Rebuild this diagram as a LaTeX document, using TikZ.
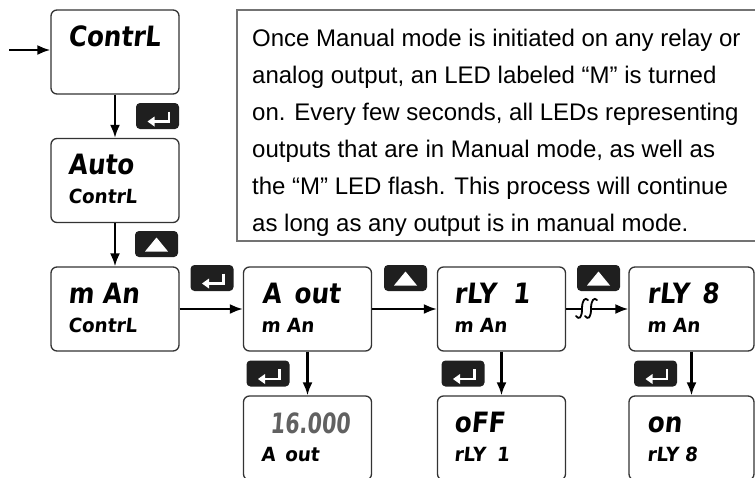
\documentclass[tikz,border=0pt]{standalone}
\usepackage{fontspec}
\usepackage{graphicx}
\setmainfont{Liberation Sans}
\newfontfamily\lcd[FakeSlant=0.1,FakeStretch=0.88]{DejaVu Sans Bold}
\newfontfamily\lcdsmall[FakeSlant=0.1,FakeStretch=0.94]{DejaVu Sans Bold}
\usetikzlibrary{arrows.meta,calc}
\tikzset{
  entericon/.pic={
    \draw[white,line width=2.6pt] (11.5,-4.5) -- (11.5,5.5) -- (-4,5.5);
    \fill[white] (-10,5.5) -- (-3,0.5) -- (-3,10.5) -- cycle;
  },
  upicon/.pic={
    \fill[white] (0,-6.5) -- (11.5,7.5) -- (-11.5,7.5) -- cycle;
  }
}
\begin{document}
\begin{tikzpicture}[x=1pt,y=-1pt,
  disp/.style={draw=black!80,line width=1.3pt,rounded corners=6pt,minimum width=128pt,minimum height=84pt,inner sep=0pt},
  keybtn/.style={fill=black!88,rounded corners=4pt,minimum width=43pt,minimum height=26pt,inner sep=0pt},
  big/.style={font=\lcd\fontsize{28}{28}\selectfont,anchor=base west,inner sep=0pt},
  small/.style={font=\lcdsmall\fontsize{19.5}{19.5}\selectfont,anchor=base west,inner sep=0pt},
  conn/.style={line width=2.2pt,-{Latex[length=13pt,width=10pt]}},
  para/.style={font=\fontsize{24}{24}\selectfont,anchor=base west,inner sep=0pt}
]
\clip (0,0) rectangle (755,477);

% note box
\draw[draw=black!55,line width=1.5pt] (237,10) rectangle (770,241);
\node[para] (l1) at (252,46) {Once Manual mode is initiated on any relay or};
\node[para] (l2) at (252,83) {analog output, an LED labeled “M” is turned};
\node[para] (l3) at (252,120) {on. Every few seconds, all LEDs representing};
\node[para] (l4) at (252,157) {outputs that are in Manual mode, as well as};
\node[para] (l5) at (252,194) {the “M” LED flash. This process will continue};
\node[para] (l6) at (252,231) {as long as any output is in manual mode.};

% display boxes
\node[disp] (contrl) at (115,52) {};
\node[disp] (auto) at (115,180.5) {};
\node[disp] (man) at (115,309) {};
\node[disp] (aout) at (307.5,309) {};
\node[disp] (rly1) at (501.5,309) {};
\node[disp,minimum width=125pt] (rly8) at (691.5,309) {};
\node[disp] (val) at (307.5,438) {};
\node[disp] (off) at (501.5,438) {};
\node[disp,minimum width=125pt] (on) at (691.5,438) {};

% display texts
\node[big] (t1) at (68,46) {ContrL};
\node[big] (t2) at (68,174) {Auto};
\node[small] (t3) at (68,203) {ContrL};
\node[big] (t4) at (68,303) {m An};
\node[small] (t5) at (68,332) {ContrL};
\node[big] (t6) at (262,303) {A \kern4pt out};
\node[small] (t7) at (261,332) {m An};
\node[big] (t8) at (454,303) {rLY \kern8pt 1};
\node[small] (t9) at (454,332) {m An};
\node[big] (t10) at (647,303) {rLY \kern4pt 8};
\node[small] (t11) at (647,332) {m An};
\node[big,text=black!62] (t12) at (270,433) {\scalebox{0.84}[1]{16.000}};
\node[small] (t13) at (261,461) {A \kern3pt out};
\node[big] (t14) at (454,432) {oFF};
\node[small] (t15) at (454,461) {rLY \kern5pt 1};
\node[big] (t16) at (647,432) {on};
\node[small] (t17) at (647,461) {rLY 8};

% keys
\node[keybtn] (k1) at (157.5,116) {};
\node[keybtn] (u1) at (156.5,244) {};
\node[keybtn] (k2) at (212,278) {};
\node[keybtn] (u2) at (405.5,278) {};
\node[keybtn] (u3) at (598.5,278) {};
\node[keybtn] (k3) at (268,373.5) {};
\node[keybtn] (k4) at (463,373.5) {};
\node[keybtn] (k5) at (655.5,373.5) {};
\pic at (k1) {entericon};
\pic at (k2) {entericon};
\pic at (k3) {entericon};
\pic at (k4) {entericon};
\pic at (k5) {entericon};
\pic at (u1) {upicon};
\pic at (u2) {upicon};
\pic at (u3) {upicon};

% connectors
\coordinate (start) at (9,50);
\draw[conn] (start) -- (start -| contrl.west);
\draw[conn] (contrl) -- (auto);
\draw[conn] (auto) -- (man);
\draw[conn] (man) -- (aout);
\draw[conn] (aout) -- (rly1);
\draw[conn] (aout) -- (val);
\draw[conn] (rly1) -- (off);
\draw[conn] (rly8) -- (on);
\coordinate (b1) at (582,309);
\coordinate (b2) at (592,309);
\draw[line width=2.2pt] (rly1) -- (b1);
\draw[conn] (b2) -- (rly8);
\draw[line width=1.8pt,line cap=round] (576,316) .. controls (579,320) and (582,318) .. (582,309) .. controls (582,300) and (585,297) .. (588,300);
\draw[line width=1.8pt,line cap=round] (585,316) .. controls (588,320) and (591,318) .. (591,309) .. controls (591,300) and (594,297) .. (597,300);
\end{tikzpicture}
\end{document}
